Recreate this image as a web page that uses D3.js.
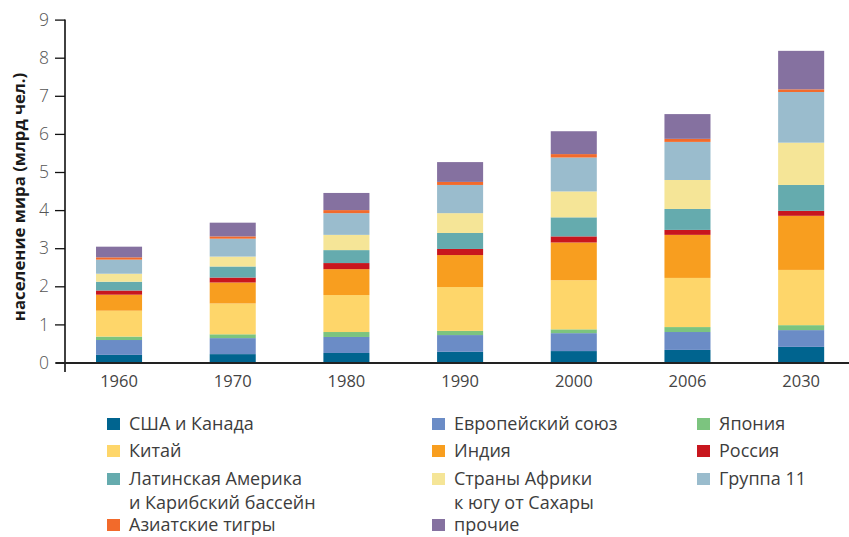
<!DOCTYPE html>
<html><head><meta charset="utf-8">
<script src="https://cdn.jsdelivr.net/npm/d3@7"></script>
<style>
html,body{margin:0;padding:0;background:#fff;}
svg{display:block;}
text{font-family:"Open Sans","Noto Sans",sans-serif;}
</style></head>
<body>
<svg id="chart" width="849" height="537"></svg>
<script>
const years = ["1960","1970","1980","1990","2000","2006","2030"];
const seriesNames = ["США и Канада","Европейский союз","Япония","Китай","Индия","Россия","Латинская Америка и Карибский бассейн","Страны Африки к югу от Сахары","Группа 11","Азиатские тигры","прочие"];
const usaCanada   = [0.20,0.22,0.25,0.28,0.30,0.33,0.41];
const eu          = [0.39,0.42,0.42,0.44,0.47,0.47,0.44];
const japan       = [0.09,0.10,0.13,0.11,0.10,0.13,0.13];
const china       = [0.68,0.81,0.97,1.15,1.29,1.29,1.45];
const india       = [0.42,0.55,0.68,0.84,0.99,1.13,1.42];
const russia      = [0.11,0.13,0.16,0.16,0.16,0.13,0.13];
const latinAm     = [0.23,0.29,0.34,0.42,0.50,0.55,0.68];
const africa      = [0.21,0.26,0.40,0.52,0.68,0.76,1.11];
const group11     = [0.37,0.47,0.57,0.74,0.89,1.00,1.33];
const asianTigers = [0.06,0.06,0.08,0.08,0.09,0.08,0.07];
const others      = [0.28,0.36,0.45,0.52,0.60,0.65,1.01];
const yTicks = [0,1,2,3,4,5,6,7,8,9];
const colors = ["#00648f","#6b8cc6","#7cc47f","#fed66a","#f89e1f","#c8161e","#65abae","#f5e597","#9abccd","#f26a2b","#8571a0"];
const legendLabels = [["США и Канада"],["Европейский союз"],["Япония"],["Китай"],["Индия"],["Россия"],["Латинская Америка","и Карибский бассейн"],["Страны Африки","к югу от Сахары"],["Группа 11"],["Азиатские тигры"],["прочие"]];

const seriesVals = [usaCanada,eu,japan,china,india,russia,latinAm,africa,group11,asianTigers,others];
const keys = seriesVals.map((_,i)=>"s"+i);
const table = years.map((y,j)=>{const o={year:y}; seriesVals.forEach((s,i)=>o["s"+i]=s[j]); return o;});
const stack = d3.stack().keys(keys)(table);

const svg = d3.select("#chart");
const x = d3.scaleBand().domain(years).range([62.2,858]).paddingInner(0.595).paddingOuter(0.2975);
const y = d3.scaleLinear().domain([0,9]).range([362.5,19.6]);

const g = svg.append("g");
stack.forEach((layer,i)=>{
  g.append("g").attr("fill",colors[i]).selectAll("rect").data(layer).join("rect")
   .attr("x",d=>x(d.data.year)).attr("width",x.bandwidth())
   .attr("y",d=>y(d[1])).attr("height",d=>y(d[0])-y(d[1]));
});

// y axis
const yAxis = svg.append("g").attr("transform","translate(65,0)")
  .call(d3.axisLeft(y).tickValues(yTicks).tickSize(10).tickPadding(6).tickFormat(d3.format("d")));
yAxis.select(".domain").attr("stroke","#111").attr("stroke-width",1.6).attr("d","M0,19.6V372");
yAxis.selectAll(".tick line").attr("stroke","#111").attr("stroke-width",1.3);
yAxis.selectAll(".tick text").attr("fill","#555").attr("font-size",17.5).attr("font-weight",300);

// x axis
const xAxis = svg.append("g").attr("transform","translate(0,363)")
  .call(d3.axisBottom(x).tickSize(0).tickPadding(12));
xAxis.select(".domain").attr("stroke","#222").attr("stroke-width",1.8).attr("d","M56,0H849");
xAxis.selectAll(".tick text").attr("fill","#444").attr("font-size",16.5).attr("font-weight",400);

// y title
svg.append("text").attr("transform","translate(25,197) rotate(-90)")
  .attr("text-anchor","middle").attr("font-size",16.8).attr("font-weight",700).attr("fill","#1a1a1a")
  .text("население мира (млрд чел.)");

// legend
const colX = [107,432,697];
const rowY = [424,451,479,525];
const pos = [[0,0],[1,0],[2,0],[0,1],[1,1],[2,1],[0,2],[1,2],[2,2],[0,3],[1,3]];
const leg = svg.append("g");
legendLabels.forEach((lines,i)=>{
  const [c,r] = pos[i];
  const gx = colX[c], gy = rowY[r];
  leg.append("rect").attr("x",gx).attr("y",gy-6).attr("width",13).attr("height",12).attr("fill",colors[i]);
  const t = leg.append("text").attr("x",gx+22).attr("y",gy+6).attr("font-size",18).attr("font-weight",400).attr("fill","#3d3d3d");
  lines.forEach((ln,k)=>t.append("tspan").attr("x",gx+22).attr("dy",k?23.5:0).text(ln));
});
</script>
</body></html>
